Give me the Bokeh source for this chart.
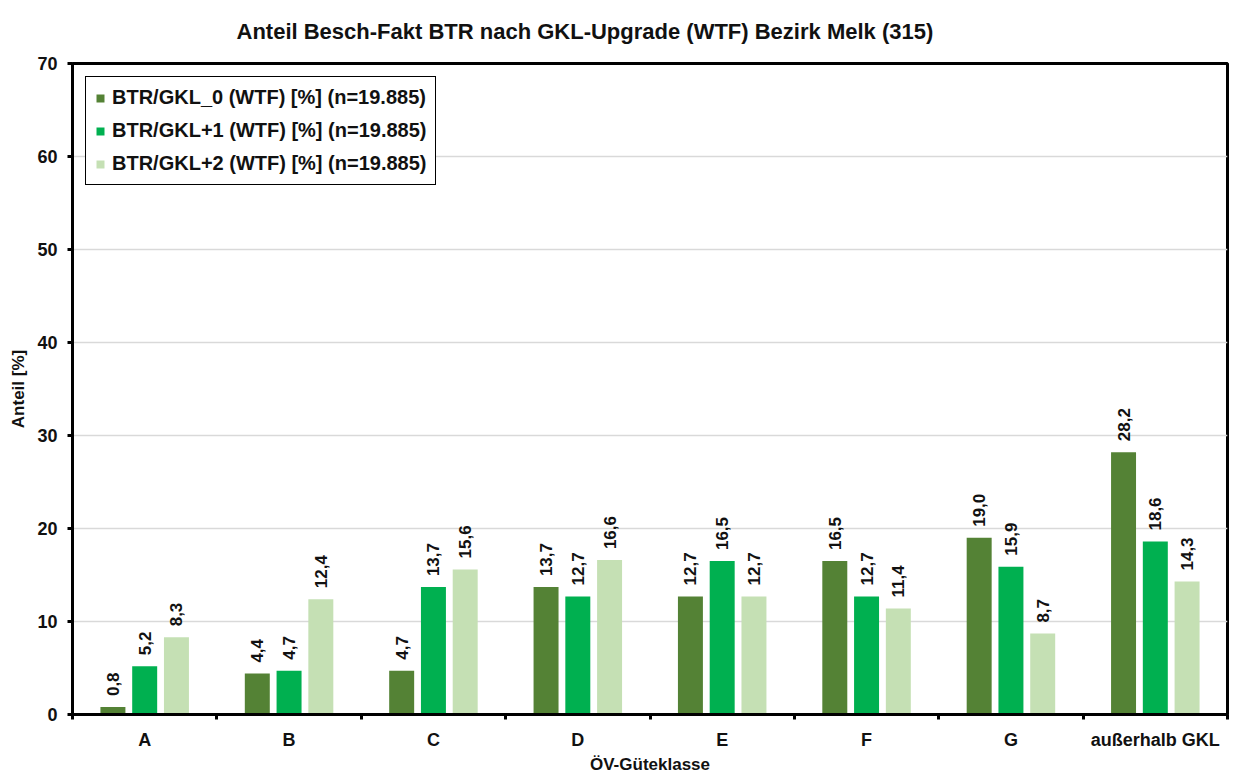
import math
from bokeh.plotting import figure
from bokeh.models import ColumnDataSource, FixedTicker, Legend, LegendItem, Range1d
from bokeh.core.properties import value
from bokeh.embed import file_html
from bokeh.resources import INLINE

categories = ["A", "B", "C", "D", "E", "F", "G", "außerhalb GKL"]
series_names = ["BTR/GKL_0 (WTF) [%] (n=19.885)",
                "BTR/GKL+1 (WTF) [%] (n=19.885)",
                "BTR/GKL+2 (WTF) [%] (n=19.885)"]
gkl0 = [0.8, 4.4, 4.7, 13.7, 12.7, 16.5, 19.0, 28.2]
gkl1 = [5.2, 4.7, 13.7, 12.7, 16.5, 12.7, 15.9, 18.6]
gkl2 = [8.3, 12.4, 15.6, 16.6, 12.7, 11.4, 8.7, 14.3]
colors = ["#548235", "#00B050", "#C5E0B4"]
y_ticks = [0, 10, 20, 30, 40, 50, 60, 70]

FONT = "Liberation Sans"

p = figure(width=1229, height=776, output_backend="svg", toolbar_location=None,
           x_range=Range1d(0, len(categories)), y_range=Range1d(0, 70),
           min_border_left=72, min_border_right=2, min_border_top=63, min_border_bottom=50)

p.title.text = "Anteil Besch-Fakt BTR nach GKL-Upgrade (WTF) Bezirk Melk (315)"
p.title.align = "left"
p.title.vertical_align = "top"
p.title.offset = 164
p.title.standoff = 36
p.title.text_font = FONT
p.title.text_font_size = "22px"
p.title.text_font_style = "bold"
p.title.text_color = "#111111"

centers = [i + 0.5 for i in range(len(categories))]
bw = 0.173
off = 0.22
renderers = []
for k, (vals, col) in enumerate(zip([gkl0, gkl1, gkl2], colors)):
    xs = [c + (k - 1) * off for c in centers]
    src = ColumnDataSource(dict(x=xs, top=vals,
                                lab=[("%.1f" % v).replace(".", ",") for v in vals]))
    r = p.vbar(x="x", top="top", width=bw, source=src, fill_color=col, line_color=None)
    renderers.append(r)
    p.text(x="x", y="top", text="lab", source=src, angle=math.pi / 2,
           text_align="left", text_baseline="middle", x_offset=0, y_offset=-11,
           text_font=value(FONT), text_font_size="17px", text_font_style="bold",
           text_color="#111111")

# axes
p.xaxis.ticker = FixedTicker(ticks=centers, minor_ticks=list(range(len(categories) + 1)))
p.xaxis.major_label_overrides = {c: cat for c, cat in zip(centers, categories)}
p.xaxis.major_tick_out = 0
p.xaxis.major_tick_in = 0
p.xaxis.minor_tick_out = 5
p.xaxis.minor_tick_in = 0
p.xaxis.minor_tick_line_width = 3
p.xaxis.minor_tick_line_color = "black"
p.xaxis.axis_label = "ÖV-Güteklasse"
p.xaxis.major_label_standoff = 10
p.xaxis.axis_label_standoff = 2

p.yaxis.ticker = FixedTicker(ticks=y_ticks)
p.yaxis.major_tick_out = 5
p.yaxis.major_tick_in = 0
p.yaxis.minor_tick_line_color = None
p.yaxis.major_tick_line_width = 3
p.yaxis.axis_label = "Anteil [%]"
p.yaxis.major_label_standoff = 10
p.yaxis.axis_label_standoff = 6

for ax in [p.xaxis[0], p.yaxis[0]]:
    ax.axis_line_width = 3
    ax.axis_line_color = "black"
    ax.major_label_text_font = FONT
    ax.major_label_text_font_size = "18px"
    ax.major_label_text_font_style = "bold"
    ax.major_label_text_color = "#111111"
    ax.axis_label_text_font = FONT
    ax.axis_label_text_font_size = "17px"
    ax.axis_label_text_font_style = "bold"
    ax.axis_label_text_color = "#111111"

p.xgrid.grid_line_color = None
p.ygrid.grid_line_color = "#d9d9d9"
p.ygrid.grid_line_width = 1.5
p.outline_line_color = "black"
p.outline_line_width = 3
p.outline_line_alpha = 1

legend = Legend(items=[LegendItem(label=n, renderers=[r]) for n, r in zip(series_names, renderers)],
                location="top_left")
legend.margin = 13
legend.padding = 9
legend.spacing = 10
legend.glyph_width = 10
legend.glyph_height = 10
legend.label_height = 22
legend.label_standoff = 7
legend.label_text_font = FONT
legend.label_text_font_size = "20px"
legend.label_text_font_style = "bold"
legend.label_text_color = "#111111"
legend.border_line_color = "black"
legend.border_line_width = 1.5
legend.border_line_alpha = 1
legend.background_fill_alpha = 1
p.add_layout(legend)

open("out.html", "w").write(file_html(p, INLINE))
